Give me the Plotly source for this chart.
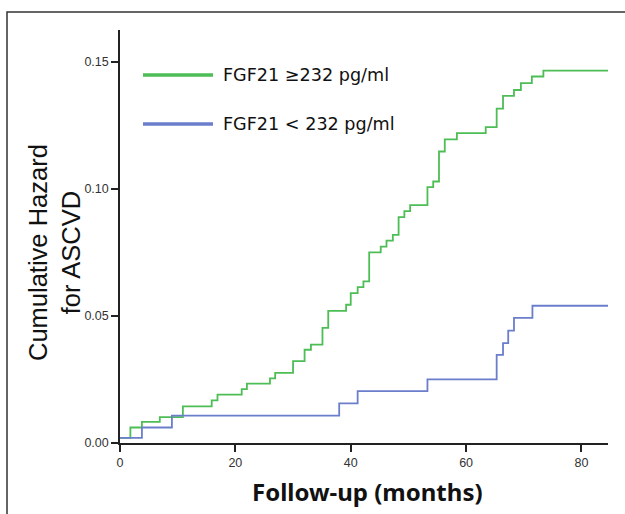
import plotly.graph_objects as go

# Step times (months) and cumulative hazard values
green_months = [0, 1.8, 3.8, 6.9, 10.9, 15.9, 16.9, 21.1, 22.0, 26.0, 26.9, 30.0, 32.0, 33.1,
                35.1, 36.1, 39.2, 40.0, 41.2, 42.2, 43.2, 45.2, 46.2, 47.3, 48.3, 49.3, 50.3,
                53.3, 54.3, 55.3, 56.3, 58.4, 63.4, 65.3, 66.4, 68.3, 69.5, 71.4, 73.4, 84.6]
green_hazard = [0.002, 0.0061, 0.0083, 0.0102, 0.0144, 0.0168, 0.019, 0.0212, 0.0234, 0.0254,
                0.0276, 0.0322, 0.0367, 0.0387, 0.0453, 0.052, 0.0544, 0.059, 0.0613, 0.0636,
                0.075, 0.0773, 0.0796, 0.0819, 0.0889, 0.0912, 0.0936, 0.1007, 0.1029, 0.1147,
                0.1195, 0.1219, 0.1243, 0.1316, 0.1366, 0.1389, 0.1416, 0.1442, 0.1465, 0.1465]

blue_months = [0, 3.8, 9.0, 38.0, 41.2, 53.3, 65.3, 66.4, 67.3, 68.3, 71.5, 84.6]
blue_hazard = [0.002, 0.0061, 0.0108, 0.0156, 0.0204, 0.025, 0.0347, 0.0393, 0.0442, 0.0492,
               0.054, 0.054]

x_ticks = [0, 20, 40, 60, 80]
y_ticks = [0.0, 0.05, 0.10, 0.15]
y_tick_labels = ["0.00", "0.05", "0.10", "0.15"]

green_label = "FGF21 \u2265232 pg/ml"
blue_label = "FGF21 < 232 pg/ml"

GREEN = "#4DBD55"
BLUE = "#6A7ECB"

W, H = 625, 514
L, R, T, B = 120, 17, 30, 71
pw, ph = W - L - R, H - T - B


def px(xp):
    return (xp - L) / pw


def py(yp):
    return (H - B - yp) / ph


fig = go.Figure()
fig.add_trace(go.Scatter(x=green_months, y=green_hazard, mode="lines",
                         line=dict(shape="hv", color=GREEN, width=1.8),
                         showlegend=False, hoverinfo="skip"))
fig.add_trace(go.Scatter(x=blue_months, y=blue_hazard, mode="lines",
                         line=dict(shape="hv", color=BLUE, width=1.8),
                         showlegend=False, hoverinfo="skip"))

shapes = [
    # outer frame
    dict(type="rect", xref="paper", yref="paper", x0=px(7), x1=px(640), y0=py(530), y1=py(12),
         line=dict(color="#333333", width=1.5), fillcolor="rgba(0,0,0,0)", layer="below"),
    # legend keys
    dict(type="line", xref="paper", yref="paper", x0=px(143), x1=px(213), y0=py(75), y1=py(75),
         line=dict(color=GREEN, width=3.5)),
    dict(type="line", xref="paper", yref="paper", x0=px(143), x1=px(213), y0=py(124), y1=py(124),
         line=dict(color=BLUE, width=3.5)),
]

annotations = [
    dict(text=green_label, xref="paper", yref="paper", x=px(221), y=py(75), xanchor="left",
         yanchor="middle", showarrow=False,
         font=dict(family="DejaVu Sans", size=17.6, color="#111111")),
    dict(text=blue_label, xref="paper", yref="paper", x=px(221), y=py(124), xanchor="left",
         yanchor="middle", showarrow=False,
         font=dict(family="DejaVu Sans", size=17.6, color="#111111")),
    dict(text="Cumulative Hazard<br>for ASCVD", xref="paper", yref="paper", x=px(54), y=py(253),
         xanchor="center", yanchor="middle", textangle=-90, showarrow=False,
         font=dict(family="Liberation Sans", size=25.5, color="#111111")),
    dict(text="<b>Follow-up (months)</b>", xref="paper", yref="paper", x=px(367), y=py(492),
         xanchor="center", yanchor="middle", showarrow=False,
         font=dict(family="Noto Sans", size=24, color="#111111")),
]

fig.update_layout(
    width=W, height=H,
    margin=dict(l=L, r=R, t=T, b=B),
    paper_bgcolor="white", plot_bgcolor="white",
    shapes=shapes, annotations=annotations,
    xaxis=dict(range=[0, 84.6], tickvals=x_ticks, ticks="outside", ticklen=7, tickwidth=1.5,
               tickcolor="#222", showline=True, linecolor="#222", linewidth=1.5,
               showgrid=False, zeroline=False,
               tickfont=dict(family="Liberation Sans", size=12.5, color="#333")),
    yaxis=dict(range=[0, 0.1625], tickvals=y_ticks, ticktext=y_tick_labels, ticks="outside",
               ticklen=7, tickwidth=1.5, tickcolor="#222", showline=True, linecolor="#222",
               linewidth=1.5, showgrid=False, zeroline=False,
               tickfont=dict(family="Liberation Sans", size=12.5, color="#333")),
)

fig.write_html("out.html", config={"displayModeBar": False},
               post_script="document.body.style.margin='0';document.body.style.overflow='hidden';")
